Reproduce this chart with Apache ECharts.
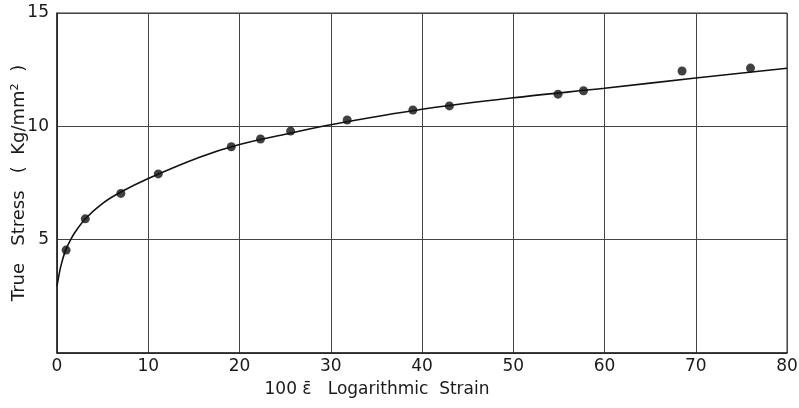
<!DOCTYPE html>
<html>
<head>
<meta charset="utf-8">
<script src="https://cdn.jsdelivr.net/npm/echarts@6/dist/echarts.min.js"></script>
<style>
  html, body { margin: 0; padding: 0; background: #fff; }
  #chart { width: 799px; height: 408px; }
</style>
</head>
<body>
<div id="chart"></div>
<script>
// measured points: logarithmic strain (x100) and true stress (kg/mm2)
const strainPts = [1.0, 3.1, 7.0, 11.1, 19.1, 22.3, 25.6, 31.8, 39.0, 43.0, 54.9, 57.7, 68.5, 76.0];
const stressPts = [4.54, 5.92, 7.04, 7.90, 9.10, 9.44, 9.79, 10.28, 10.72, 10.90, 11.42, 11.57, 12.44, 12.57];

// fitted curve
const curveX = [0, 0.4, 0.95, 1.5, 1.9, 3.1, 5, 7, 10, 15.7, 20, 25, 30, 40, 50, 60, 70, 80];
const curveY = [2.95, 3.8, 4.55, 5.0, 5.28, 5.92, 6.6, 7.1, 7.7, 8.65, 9.2, 9.65, 10.07, 10.75, 11.26, 11.68, 12.13, 12.56];

const xTicks = [0, 10, 20, 30, 40, 50, 60, 70, 80];
const yTicks = [5, 10, 15];

const font = "DejaVu Sans";
const ink = "#1a1a1a";

const chart = echarts.init(document.getElementById("chart"));
chart.setOption({
  animation: false,
  backgroundColor: "#fff",
  grid: {
    left: 57,
    right: 12,
    top: 13,
    bottom: 55,
    containLabel: false,
    outerBoundsMode: "none",
    show: true,
    borderColor: "#333",
    borderWidth: 1,
  },
  title: {
    text: "100 \u03B5\u0304   Logarithmic  Strain",
    left: 372,
    top: 376,
    textAlign: "center",
    textStyle: { fontFamily: font, fontSize: 17, fontWeight: "normal", color: ink },
  },
  xAxis: {
    type: "value",
    min: 0,
    max: 80,
    interval: 10,
    axisLine: { lineStyle: { color: "#222", width: 1.5 } },
    axisTick: { show: false },
    axisLabel: {
      color: ink,
      fontFamily: font,
      fontSize: 17,
      margin: 5,
      formatter: (v) => (xTicks.includes(v) ? String(v) : ""),
    },
    splitLine: { lineStyle: { color: "#444", width: 1 } },
  },
  yAxis: {
    type: "value",
    min: 0,
    max: 15,
    interval: 5,
    name: "True   Stress   (  Kg/mm\u00B2  )",
    nameLocation: "middle",
    nameGap: 29,
    nameMoveOverlap: false,
    nameTextStyle: { fontFamily: font, fontSize: 18, color: ink },
    axisLine: { show: true, lineStyle: { color: "#222", width: 1.5 } },
    axisTick: { show: false },
    axisLabel: {
      color: ink,
      fontFamily: font,
      fontSize: 17,
      margin: 8,
      formatter: (v) => (yTicks.includes(v) ? String(v) : ""),
    },
    splitLine: { lineStyle: { color: "#444", width: 1 } },
  },
  series: [
    {
      name: "curve",
      type: "line",
      smooth: 0.3,
      symbol: "none",
      lineStyle: { color: "#111", width: 1.6 },
      data: curveX.map((x, i) => [x, curveY[i]]),
    },
    {
      name: "points",
      type: "scatter",
      symbol: "circle",
      symbolSize: 9,
      itemStyle: { color: "#111" },
      data: strainPts.map((x, i) => [x, stressPts[i]]),
    },
  ],
});
</script>
</body>
</html>
